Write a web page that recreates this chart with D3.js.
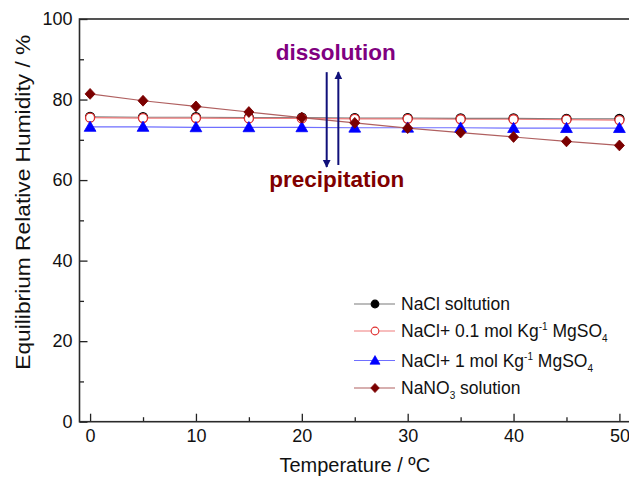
<!DOCTYPE html>
<html>
<head>
<meta charset="utf-8">
<script src="https://cdn.jsdelivr.net/npm/d3@7"></script>
<style>
  body { margin: 0; background: #fff; }
  svg { display: block; font-family: "Liberation Sans", Arial, sans-serif; }
  .tick text { font-size: 18px; fill: #111; }
</style>
</head>
<body>
<div id="canvas"></div>
<script>
// data
var temps = [0, 5, 10, 15, 20, 25, 30, 35, 40, 45, 50];
var naclSol = [75.7, 75.6, 75.6, 75.5, 75.5, 75.4, 75.4, 75.3, 75.3, 75.2, 75.2];
var nacl01Mg = [75.5, 75.4, 75.4, 75.3, 75.3, 75.2, 75.2, 75.1, 75.1, 75.0, 74.9];
var nacl1Mg = [73.2, 73.2, 73.1, 73.1, 73.1, 73.0, 73.0, 73.0, 72.9, 72.9, 72.9];
var nano3Sol = [81.4, 79.7, 78.3, 76.9, 75.5, 74.2, 72.9, 71.8, 70.7, 69.6, 68.6];
var xTicks = [0, 10, 20, 30, 40, 50];
var yTicks = [0, 20, 40, 60, 80, 100];

var W = 629, H = 477;
var m = {t:19, r:-1, b:55.3, l:79.5};
var w = W - m.l - m.r,
    h = H - m.t - m.b;

var svg = d3.select('#canvas').append('svg')
    .attr('width', W)
    .attr('height', H);
var plot = svg.append('g')
    .attr('transform', 'translate(' + m.l + ',' + m.t + ')');

var scaleX = d3.scaleLinear().domain([-1, 51]).range([0, w]);
var scaleY = d3.scaleLinear().domain([0, 100]).range([h, 0]);

var series = [
  {name:'nacl', vals:naclSol, line:'#7a7a7a', marker:'circle', fill:'#000', stroke:'#000'},
  {name:'nacl01', vals:nacl01Mg, line:'#f07c7c', marker:'circle', fill:'#fff', stroke:'#e03030'},
  {name:'nacl1', vals:nacl1Mg, line:'#6f6fff', marker:'triangle', fill:'#0000ff', stroke:'#0000ff'},
  {name:'nano3', vals:nano3Sol, line:'#b06060', marker:'diamond', fill:'#7b0000', stroke:'#7b0000'}
];

var symbols = {
  circle: d3.symbol().type(d3.symbolCircle).size(64),
  triangle: d3.symbol().type(d3.symbolTriangle).size(60),
  diamond: d3.symbol().type(d3.symbolSquare).size(50)
};

function addMarker(sel, s) {
  var p = sel.append('path').attr('d', symbols[s.marker]())
      .attr('fill', s.fill).attr('stroke', s.stroke)
      .attr('stroke-width', s.marker == 'circle' ? 1.3 : 0.8);
  if (s.marker == 'diamond') p.attr('transform', 'scale(1,1.08) rotate(45)');
  if (s.marker == 'triangle') p.attr('transform', 'translate(0,1)');
  return p;
}

var line = d3.line()
    .x(function(d){ return scaleX(d[0]); })
    .y(function(d){ return scaleY(d[1]); });

series.forEach(function(s){
  var pts = temps.map(function(t, i){ return [t, s.vals[i]]; });
  plot.append('path').datum(pts)
      .attr('d', line)
      .attr('fill', 'none')
      .attr('stroke', s.line)
      .attr('stroke-width', 1.2);
});
series.forEach(function(s){
  var pts = temps.map(function(t, i){ return [t, s.vals[i]]; });
  plot.selectAll('.m-' + s.name).data(pts).enter()
      .append('g')
      .attr('class', 'm-' + s.name)
      .attr('transform', function(d){ return 'translate(' + scaleX(d[0]) + ',' + scaleY(d[1]) + ')'; })
      .each(function(){ addMarker(d3.select(this), s); });
});

// axes: major ticks inside, minor ticks between
var axisX = d3.axisBottom(scaleX).tickValues(xTicks).tickSize(-8).tickPadding(8).tickFormat(d3.format('d'));
var axisXm = d3.axisBottom(scaleX).tickValues([5, 15, 25, 35, 45]).tickSize(-4.5).tickFormat('');
var axisY = d3.axisLeft(scaleY).tickValues(yTicks).tickSize(-8).tickPadding(7).tickFormat(d3.format('d'));
var axisYm = d3.axisLeft(scaleY).tickValues([10, 30, 50, 70, 90]).tickSize(-4.5).tickFormat('');

[[axisX, 'translate(0,' + h + ')'], [axisXm, 'translate(0,' + h + ')'], [axisY, null], [axisYm, null]].forEach(function(a){
  var g = plot.append('g').attr('class', 'axis').call(a[0]);
  if (a[1]) g.attr('transform', a[1]);
  g.select('.domain').remove();
  g.selectAll('line').attr('stroke', '#222').attr('stroke-width', 1.3);
});

// frame
plot.append('rect')
    .attr('width', w).attr('height', h)
    .attr('fill', 'none')
    .attr('stroke', '#2a2a2a')
    .attr('stroke-width', 1.6);

// axis titles
svg.append('text')
    .attr('x', scaleX(25) + m.l).attr('y', 472)
    .attr('text-anchor', 'middle')
    .style('font-size', '20px').attr('fill', '#111')
    .text('Temperature / ºC');
svg.append('text')
    .attr('transform', 'translate(30,' + (m.t + scaleY(54.5)) + ') rotate(-90)')
    .attr('text-anchor', 'middle')
    .attr('textLength', 335)
    .attr('lengthAdjust', 'spacingAndGlyphs')
    .style('font-size', '21px').attr('fill', '#111')
    .text('Equilibrium Relative Humidity / %');

// annotation: arrows and labels
var arrowX1 = 22.35, arrowX2 = 23.45, arrowTop = 86.8, arrowBot = 63.5;
var navy = '#10107a';
svg.append('defs').append('marker')
    .attr('id', 'head').attr('viewBox', '0 0 10 10')
    .attr('refX', 9).attr('refY', 5)
    .attr('markerWidth', 4).attr('markerHeight', 6.5)
    .attr('markerUnits', 'strokeWidth')
    .attr('orient', 'auto')
  .append('path').attr('d', 'M0,0 L10,5 L0,10 z').attr('fill', navy);
plot.append('line')
    .attr('x1', scaleX(arrowX1)).attr('x2', scaleX(arrowX1))
    .attr('y1', scaleY(arrowTop)).attr('y2', scaleY(arrowBot) + 1)
    .attr('stroke', navy).attr('stroke-width', 2)
    .attr('marker-end', 'url(#head)');
plot.append('line')
    .attr('x1', scaleX(arrowX2)).attr('x2', scaleX(arrowX2))
    .attr('y1', scaleY(arrowBot) - 1).attr('y2', scaleY(arrowTop))
    .attr('stroke', navy).attr('stroke-width', 2)
    .attr('marker-end', 'url(#head)');

plot.append('text')
    .attr('x', scaleX(23.2)).attr('y', scaleY(89.8))
    .attr('text-anchor', 'middle')
    .style('font-size', '22.5px').style('font-weight', 'bold')
    .attr('fill', '#800080')
    .text('dissolution');
plot.append('text')
    .attr('x', scaleX(23.3)).attr('y', scaleY(58.2))
    .attr('text-anchor', 'middle')
    .style('font-size', '22.5px').style('font-weight', 'bold')
    .attr('fill', '#800000')
    .text('precipitation');

// legend
var legendRows = [
  {s:series[0], y:304, parts:[['NaCl soltution', 0]]},
  {s:series[1], y:331, parts:[['NaCl+ 0.1 mol Kg', 0], ['-1', -1], [' MgSO', 0], ['4', 1]]},
  {s:series[2], y:360.5, parts:[['NaCl+ 1 mol Kg', 0], ['-1', -1], [' MgSO', 0], ['4', 1]]},
  {s:series[3], y:388, parts:[['NaNO', 0], ['3', 1], [' solution', 0]]}
];
var legend = svg.append('g');
legendRows.forEach(function(r){
  var g = legend.append('g').attr('transform', 'translate(0,' + r.y + ')');
  g.append('line').attr('x1', 354).attr('x2', 395).attr('y1', 0).attr('y2', 0)
      .attr('stroke', r.s.line).attr('stroke-width', 1.2);
  var mk = g.append('g').attr('transform', 'translate(375,0) scale(0.85)');
  addMarker(mk, r.s);
  var t = g.append('text').attr('x', 401).attr('y', 6)
      .style('font-size', '17.5px').attr('fill', '#111');
  var shift = 0;
  r.parts.forEach(function(p){
    var target = p[1] == -1 ? -7 : (p[1] == 1 ? 5 : 0);
    t.append('tspan')
        .attr('dy', target - shift)
        .style('font-size', p[1] == 0 ? '17.5px' : '10px')
        .text(p[0]);
    shift = target;
  });
});
</script>
</body>
</html>
